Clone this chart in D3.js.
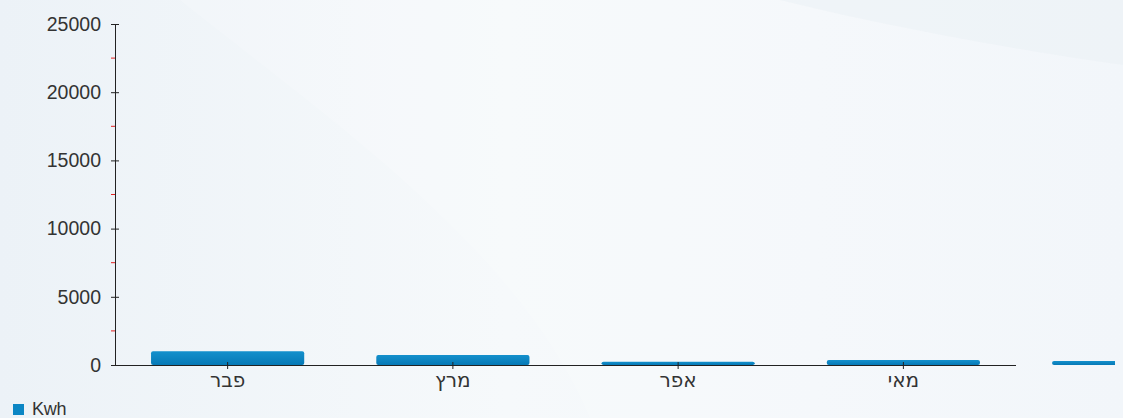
<!DOCTYPE html>
<html><head><meta charset="utf-8">
<script src="https://cdn.jsdelivr.net/npm/d3@7"></script>
<style>
html,body{margin:0;padding:0;overflow:hidden;}
svg{display:block;font-family:"Liberation Sans",Arial,sans-serif;}
</style></head>
<body>
<svg id="c" width="1123" height="418"></svg>
<script>
const categories = ["פבר","מרץ","אפר","מאי","יוני"];
const kwh = [1000, 730, 240, 360, 300];
const yTicks = [0,5000,10000,15000,20000,25000];
const seriesName = "Kwh";

const W=1123,H=418;
const svg=d3.select("#c");
const defs=svg.append("defs");
const bg=defs.append("linearGradient").attr("id","bg").attr("x1","0").attr("y1","0").attr("x2","1").attr("y2","0");
bg.append("stop").attr("offset","0").attr("stop-color","#ecf2f7");
bg.append("stop").attr("offset","0.45").attr("stop-color","#f6f9fb");
bg.append("stop").attr("offset","1").attr("stop-color","#f0f5f9");
svg.append("rect").attr("width",W).attr("height",H).attr("fill","url(#bg)");
svg.append("path").attr("d","M180,0 C330,120 520,250 590,418 L1123,418 L1123,0 Z").attr("fill","#ffffff").attr("opacity",0.18);
svg.append("path").attr("d","M780,0 C900,30 1050,55 1123,65 L1123,0 Z").attr("fill","#e8eff5").attr("opacity",0.45);

const barG=defs.append("linearGradient").attr("id","bar").attr("x1","0").attr("y1","0").attr("x2","0").attr("y2","1");
barG.append("stop").attr("offset","0").attr("stop-color","#1490cc");
barG.append("stop").attr("offset","1").attr("stop-color","#0679b6");
defs.append("clipPath").attr("id","clip").append("rect").attr("x",0).attr("y",0).attr("width",1115).attr("height",H);

const x0=115, step=225.25;
const x=d3.scaleBand().domain(categories).range([x0,x0+step*categories.length]).paddingInner(0.32).paddingOuter(0.16);
const y=d3.scaleLinear().domain([0,25000]).range([365,24]);
const axisEnd=x0+step*4;

// bars
svg.append("g").attr("clip-path","url(#clip)").selectAll("rect").data(kwh).join("rect")
  .attr("x",(d,i)=>x(categories[i]))
  .attr("y",d=>y(d))
  .attr("width",x.bandwidth())
  .attr("height",d=>y(0)-y(d))
  .attr("rx",2)
  .attr("fill","url(#bar)");

// y axis
const ya=svg.append("g").attr("transform",`translate(${x0},0)`)
  .call(d3.axisLeft(y).tickValues(yTicks).tickFormat(d3.format("d")).tickSize(4).tickSizeOuter(0).tickPadding(10));
ya.select(".domain").attr("stroke","#222");
ya.selectAll(".tick line").attr("x1",-4).attr("x2",4).attr("stroke","#222");
ya.selectAll(".tick text").attr("font-size",19.5).attr("fill","#333").attr("font-family","Liberation Sans, Arial, sans-serif");
// minor red ticks
const minor=d3.range(2500,25000,5000);
svg.append("g").selectAll("line").data(minor).join("line")
  .attr("x1",x0-4).attr("x2",x0).attr("y1",d=>y(d)).attr("y2",d=>y(d)).attr("stroke","#e32222");

// x axis
const xg=svg.append("g").attr("transform",`translate(0,${y(0)})`);
xg.append("line").attr("x1",x0).attr("x2",axisEnd).attr("y1",0.5).attr("y2",0.5).attr("stroke","#222");
const shown=categories.slice(0,4);
xg.selectAll("line.t").data(shown).join("line").attr("class","t")
  .attr("x1",d=>x(d)+x.bandwidth()/2).attr("x2",d=>x(d)+x.bandwidth()/2)
  .attr("y1",-3).attr("y2",4).attr("stroke","#222");
xg.selectAll("text").data(shown).join("text")
  .attr("x",d=>x(d)+x.bandwidth()/2).attr("y",22)
  .attr("text-anchor","middle").attr("font-size",20).attr("fill","#333")
  .attr("font-family","DejaVu Sans, sans-serif")
  .text(d=>d);

// legend
const lg=svg.append("g").attr("transform","translate(13,402)");
lg.append("rect").attr("width",11).attr("height",11).attr("y",2).attr("fill","#0b86c4");
lg.append("text").attr("x",19).attr("y",13).attr("font-size",18).attr("fill","#333").attr("letter-spacing","-0.3").text(seriesName);
</script>
</body></html>
